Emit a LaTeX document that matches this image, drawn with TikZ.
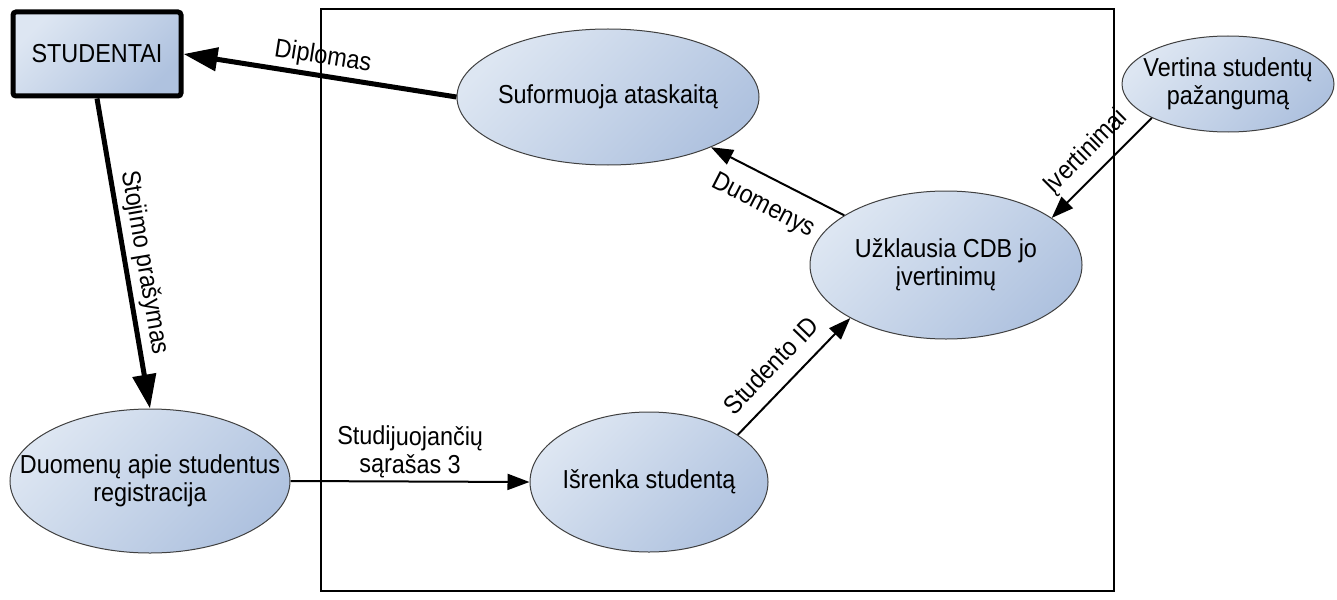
\documentclass[tikz,border=0pt]{standalone}
\usepackage{fontspec}
\setmainfont{Liberation Sans}[FakeStretch=0.9]
\usetikzlibrary{shapes.geometric,arrows.meta}
\definecolor{procLight}{HTML}{DDE6F2}
\definecolor{procDark}{HTML}{AFC2DF}
\tikzset{
  bigtip/.tip={Triangle[length=34pt,width=23pt]},
  smalltip/.tip={Triangle[length=22pt,width=16pt]},
}
\begin{document}
\begin{tikzpicture}[x=1pt,y=-1pt,
  every node/.style={font=\fontsize{26}{28}\selectfont},
  proc/.style={ellipse, draw=black!75, line width=1pt,
    top color=procLight, bottom color=procDark, shading angle=45,
    inner xsep=-80pt, inner ysep=-30pt, align=center},
  entity/.style={rectangle, rounded corners=3pt, draw=black, line width=5pt,
    top color=procLight, bottom color=procDark, shading angle=45,
    minimum width=168pt, minimum height=84pt, inner sep=0pt},
  heavy/.style={line width=5pt},
  light/.style={line width=2pt},
  lbl/.style={sloped, inner sep=3pt, align=center},
]
\useasboundingbox (0,0) rectangle (1337,599);

% system boundary
\node[draw, line width=2pt, minimum width=793pt, minimum height=582pt,
      inner sep=0pt] (sys) at (717.5,300) {};

% external entity
\node[entity] (stu) at (97,54) {STUDENTAI};

% processes
\node[proc, minimum width=302pt, minimum height=136pt] (suf) at (608,97)
  {Suformuoja ataskaitą};
\node[proc, minimum width=212pt, minimum height=96pt] (ver) at (1228,84)
  {Vertina studentų\\pažangumą};
\node[proc, minimum width=272pt, minimum height=148pt] (uzk) at (946,265)
  {Užklausia CDB jo\\įvertinimų};
\node[proc, minimum width=238pt, minimum height=140pt] (isr) at (649,482)
  {Išrenka studentą};
\node[proc, minimum width=280pt, minimum height=144pt] (duo) at (150,481)
  {Duomenų apie studentus\\registracija};

% data flows
\draw[heavy, bigtip-] (stu.east) -- (suf.west)
  node[lbl, midway, above=1pt] {Diplomas};
\draw[heavy, -bigtip] (stu.south) -- (duo.north)
  node[lbl, pos=0.54, above=1pt] {Stojimo prašymas};
\draw[light, -smalltip] (duo.east) -- (isr.west)
  node[lbl, midway, above=-1pt] {Studijuojančių\\sąrašas 3};
\draw[light, -smalltip] (isr.28) -- (uzk.209)
  node[lbl, pos=0.45, above=11pt] {Studento ID};
\draw[light, smalltip-] (suf.334) -- (uzk.154)
  node[lbl, pos=0.49, below=13pt] {Duomenys};
\draw[light, smalltip-] (uzk.24) -- (ver.204)
  node[lbl, pos=0.5, above=6pt] {Įvertinimai};
\end{tikzpicture}
\end{document}
